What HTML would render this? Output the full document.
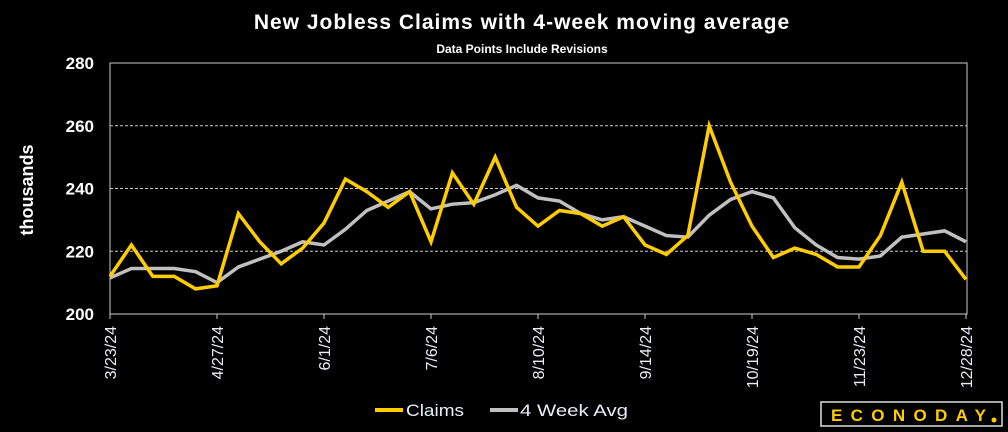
<!DOCTYPE html>
<html><head><meta charset="utf-8"><style>
body{margin:0;background:#000;width:1008px;height:432px;overflow:hidden;font-family:"Liberation Sans",sans-serif}
svg{display:block}
</style></head><body>
<svg id="chart" width="1008" height="432">
<rect width="1008" height="432" fill="#000"/>
<text x="522" y="29" fill="#fff" font-size="21" font-weight="bold" text-anchor="middle" letter-spacing="1">New Jobless Claims with 4-week moving average</text>
<text x="522" y="53" fill="#fff" font-size="12" font-weight="bold" text-anchor="middle">Data Points Include Revisions</text>
<text transform="translate(33,190) rotate(-90)" fill="#fff" font-size="18" font-weight="bold" text-anchor="middle">thousands</text>
<g id="grid"></g><g id="axes"></g><g id="series"></g>
<g>
<line x1="375" y1="410" x2="403" y2="410" stroke="#ffcc00" stroke-width="4"/>
<text x="406" y="416" fill="#e8eef8" font-size="17" textLength="58" lengthAdjust="spacingAndGlyphs">Claims</text>
<line x1="490" y1="410" x2="518" y2="410" stroke="#c0c0c0" stroke-width="4"/>
<text x="520" y="416" fill="#e8eef8" font-size="17" textLength="108" lengthAdjust="spacingAndGlyphs">4 Week Avg</text>
</g>
<g>
<rect x="821" y="402" width="181" height="24" fill="#000" stroke="#ddd" stroke-width="1.5"/>
<text x="831" y="421" fill="#ffcc00" font-size="17" font-weight="bold" textLength="155" lengthAdjust="spacing">ECONODAY</text>
<circle cx="994" cy="420" r="2.5" fill="#ffcc00"/>
</g>
</svg>
<script>
const dates=["3/23/24","4/27/24","6/1/24","7/6/24","8/10/24","9/14/24","10/19/24","11/23/24","12/28/24"];
const yTicks=[200,220,240,260,280];
const claims=[212,222,212,212,208,209,232,223,216,221,229,243,239,234,239,223,245,235,250,234,228,233,232,228,231,222,219,225,260,242,228,218,221,219,215,215,225,242,220,220,211];
const avg=[211.5,214.5,214.5,214.5,213.5,210,215,217.5,220,223,222,227,233,236,239,233.5,235,235.5,238,241,237,236,232,230,231,228,225,224.5,231.5,236.5,239,237,227.5,222,218,217.5,218.5,224.5,225.5,226.5,223];
const NS="http://www.w3.org/2000/svg";
const L=110,R=967,T=63,B=314;
const x=i=>L+(R-1-L)*i/(claims.length-1);
const y=v=>B-(v-200)/80*(B-T);
function mk(tag,attrs,parent){const e=document.createElementNS(NS,tag);for(const k in attrs)e.setAttribute(k,attrs[k]);parent.appendChild(e);return e;}
const grid=document.getElementById('grid'),axes=document.getElementById('axes'),ser=document.getElementById('series');
mk('rect',{x:L,y:T,width:R-L,height:B-T,fill:'none',stroke:'#ccc','stroke-width':1},axes);
yTicks.forEach(v=>{
  if(v>200&&v<280){const g=mk('line',{x1:L,x2:R,y1:y(v),y2:y(v),stroke:'#ccc','stroke-dasharray':'3,2','stroke-width':1},grid);
  
  }
  const t=mk('text',{x:94,y:y(v)+6,fill:'#fff','font-size':17,'font-weight':'bold','text-anchor':'end'},axes);
  t.textContent=v;
  
  
});
dates.forEach((d,k)=>{
  const xi=x(k*5);
  mk('line',{x1:xi,x2:xi,y1:B,y2:B+5,stroke:'#ccc'},axes);
  const t=mk('text',{transform:`translate(${xi+6},${B+12}) rotate(-90)`,fill:'#e8eef8','font-size':16,'text-anchor':'end'},axes);
  t.textContent=d;
  
  
});
function line(arr,color,name){
  const p=mk('polyline',{points:arr.map((v,i)=>x(i)+','+y(v)).join(' '),fill:'none',stroke:color,'stroke-width':3.5,'stroke-linejoin':'miter'},ser);
  
  
}
line(avg,'#c0c0c0','avg-line');
line(claims,'#ffcc00','claims-line');
</script>
</body></html>
